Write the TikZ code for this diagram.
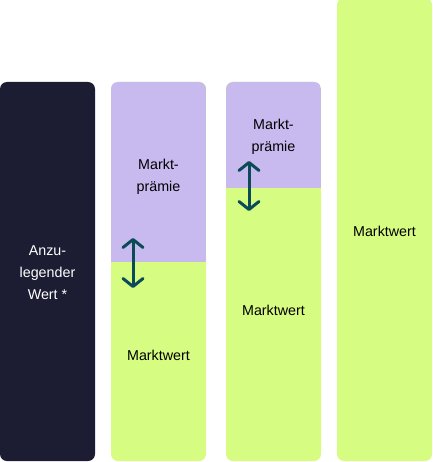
\documentclass[tikz,border=0pt]{standalone}
\usepackage{fontspec}
\setmainfont{Liberation Sans}
\usetikzlibrary{arrows.meta}
\definecolor{navy}{HTML}{1C1C33}
\definecolor{lila}{HTML}{C8B9EF}
\definecolor{lime}{HTML}{D7FC82}
\definecolor{teal}{HTML}{0B4A57}
\tikzset{
  lbl/.style={align=center, inner sep=0pt, font=\fontsize{14.3}{22}\selectfont, text=black},
  dbl/.style={draw=teal, line width=3pt, line cap=round,
    {Straight Barb[length=8pt,width=20pt,line width=3pt,round]}-{Straight Barb[length=8pt,width=20pt,line width=3pt,round]}}
}
\begin{document}
\begin{tikzpicture}[x=1pt,y=-1pt]
\useasboundingbox (0,0) rectangle (432,462);
% bar 1
\fill[navy, rounded corners=7pt] (0,82) rectangle (95,461);
% bar 2
\fill[lime, rounded corners=7pt] (111,82) rectangle (206,461);
\begin{scope}
\clip[rounded corners=7pt] (111,82) rectangle (206,461);
\fill[lila] (111,70) rectangle (206,262);
\end{scope}
% bar 3
\fill[lime, rounded corners=7pt] (226,82) rectangle (321,461);
\begin{scope}
\clip[rounded corners=7pt] (226,82) rectangle (321,461);
\fill[lila] (226,70) rectangle (321,187.5);
\end{scope}
% bar 4
\fill[lime, rounded corners=7pt] (337,-2) rectangle (432,461);
% texts
\node[lbl, text=white] (t1) at (47.5,273) {Anzu-\\legender\\Wert *};
\node[lbl] (t2a) at (158.5,177) {Markt-\\prämie};
\node[lbl] (t2b) at (158.5,355) {Marktwert};
\node[lbl] (t3a) at (273.5,137) {Markt-\\prämie};
\node[lbl] (t3b) at (273.5,310) {Marktwert};
\node[lbl] (t4) at (384.5,231) {Marktwert};
% arrows
\coordinate (a2t) at (133,238);
\coordinate (a2b) at (133,288);
\coordinate (a3t) at (249,161);
\coordinate (a3b) at (249,211);
\draw[dbl] (a2t) -- (a2b);
\draw[dbl] (a3t) -- (a3b);
\end{tikzpicture}
\end{document}
